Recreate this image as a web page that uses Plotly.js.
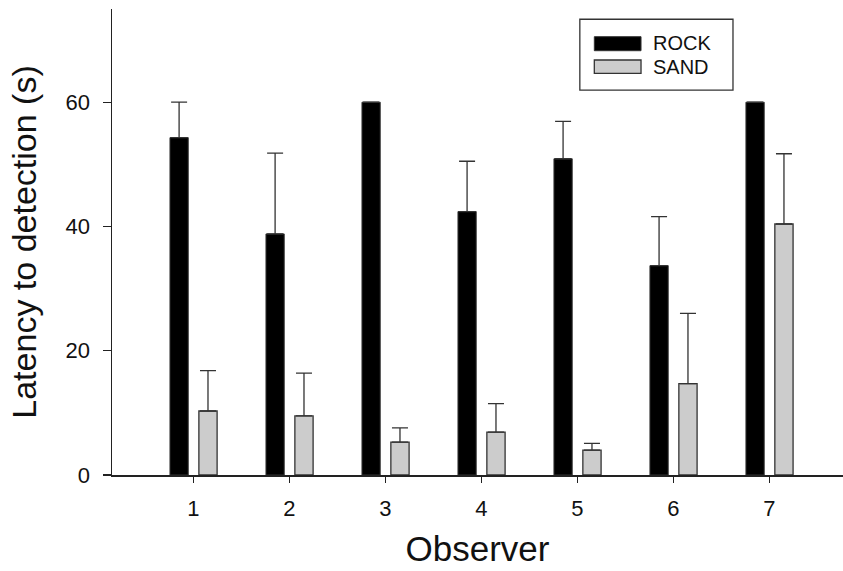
<!DOCTYPE html>
<html>
<head>
<meta charset="utf-8">
<script src="https://cdn.plot.ly/plotly-3.0.1.min.js"></script>
<style>html,body{margin:0;padding:0;background:#fff;}#chart{width:843px;height:571px;}</style>
</head>
<body>
<div id="chart"></div>
<script>
const observers = [1, 2, 3, 4, 5, 6, 7];
const rockMean = [54.3, 38.8, 60.0, 42.4, 50.9, 33.7, 60.0];
const rockErr  = [5.7, 13.0, null, 8.1, 6.0, 7.9, null];
const sandMean = [10.3, 9.5, 5.3, 6.9, 4.0, 14.7, 40.4];
const sandErr  = [6.5, 6.9, 2.3, 4.6, 1.1, 11.3, 11.3];
const seriesNames = ['ROCK', 'SAND'];
const yTicks = [0, 20, 40, 60];

const FONT = '"Liberation Sans", Arial, Helvetica, sans-serif';

const traces = [
  {
    type: 'bar', name: seriesNames[0], x: observers, y: rockMean,
    width: 0.19, offset: -0.243,
    marker: {color: '#000000', line: {color: '#333333', width: 1}},
    error_y: {type: 'data', array: rockErr, symmetric: false, arrayminus: rockErr.map(() => 0),
              color: '#333333', thickness: 1.3, width: 8},
    showlegend: false
  },
  {
    type: 'bar', name: seriesNames[1], x: observers, y: sandMean,
    width: 0.19, offset: 0.058,
    marker: {color: '#cccccc', line: {color: '#333333', width: 1.3}},
    error_y: {type: 'data', array: sandErr, symmetric: false, arrayminus: sandErr.map(() => 0),
              color: '#333333', thickness: 1.3, width: 8},
    showlegend: false
  }
];

const layout = {
  width: 843, height: 571,
  margin: {l: 112, r: 0, t: 9, b: 96, pad: 0},
  paper_bgcolor: '#ffffff', plot_bgcolor: '#ffffff',
  barmode: 'overlay',
  font: {family: FONT, color: '#111111'},
  xaxis: {
    range: [0.153, 7.768],
    tickvals: observers, ticktext: observers.map(String),
    ticks: 'outside', ticklen: 6, tickwidth: 1.3, tickcolor: '#222',
    showline: true, linecolor: '#222', linewidth: 1.5,
    showgrid: false, zeroline: false,
    tickfont: {size: 22, family: FONT, color: '#111'},
    ticklabelstandoff: 7,
    title: {text: 'Observer', font: {size: 35, family: FONT, color: '#111'}, standoff: 16}
  },
  yaxis: {
    range: [0, 75],
    tickvals: yTicks, ticktext: yTicks.map(String),
    ticks: 'outside', ticklen: 8, tickwidth: 1.3, tickcolor: '#222',
    showline: true, linecolor: '#222', linewidth: 1.5,
    showgrid: false, zeroline: false,
    tickfont: {size: 22, family: FONT, color: '#111'},
    ticklabelstandoff: 8,
    title: {text: 'Latency to detection (s)', font: {size: 34, family: FONT, color: '#111'}, standoff: 18}
  },
  shapes: [
    {type: 'rect', xref: 'paper', yref: 'paper', x0: 0.640, x1: 0.8495, y0: 0.826, y1: 0.978,
     line: {color: '#333', width: 1.3}, fillcolor: 'rgba(0,0,0,0)'},
    {type: 'rect', xref: 'paper', yref: 'paper', x0: 0.6598, x1: 0.7237, y0: 0.9105, y1: 0.9406,
     line: {color: '#333', width: 1}, fillcolor: '#000000'},
    {type: 'rect', xref: 'paper', yref: 'paper', x0: 0.6598, x1: 0.7237, y0: 0.862, y1: 0.8906,
     line: {color: '#333', width: 1.3}, fillcolor: '#cccccc'}
  ],
  annotations: [
    {xref: 'paper', yref: 'paper', x: 0.738, y: 0.926, xanchor: 'left', yanchor: 'middle',
     text: seriesNames[0], showarrow: false, font: {size: 20, family: FONT, color: '#111'}},
    {xref: 'paper', yref: 'paper', x: 0.738, y: 0.876, xanchor: 'left', yanchor: 'middle',
     text: seriesNames[1], showarrow: false, font: {size: 20, family: FONT, color: '#111'}}
  ]
};

Plotly.newPlot('chart', traces, layout, {staticPlot: true, displayModeBar: false});
</script>
</body>
</html>
